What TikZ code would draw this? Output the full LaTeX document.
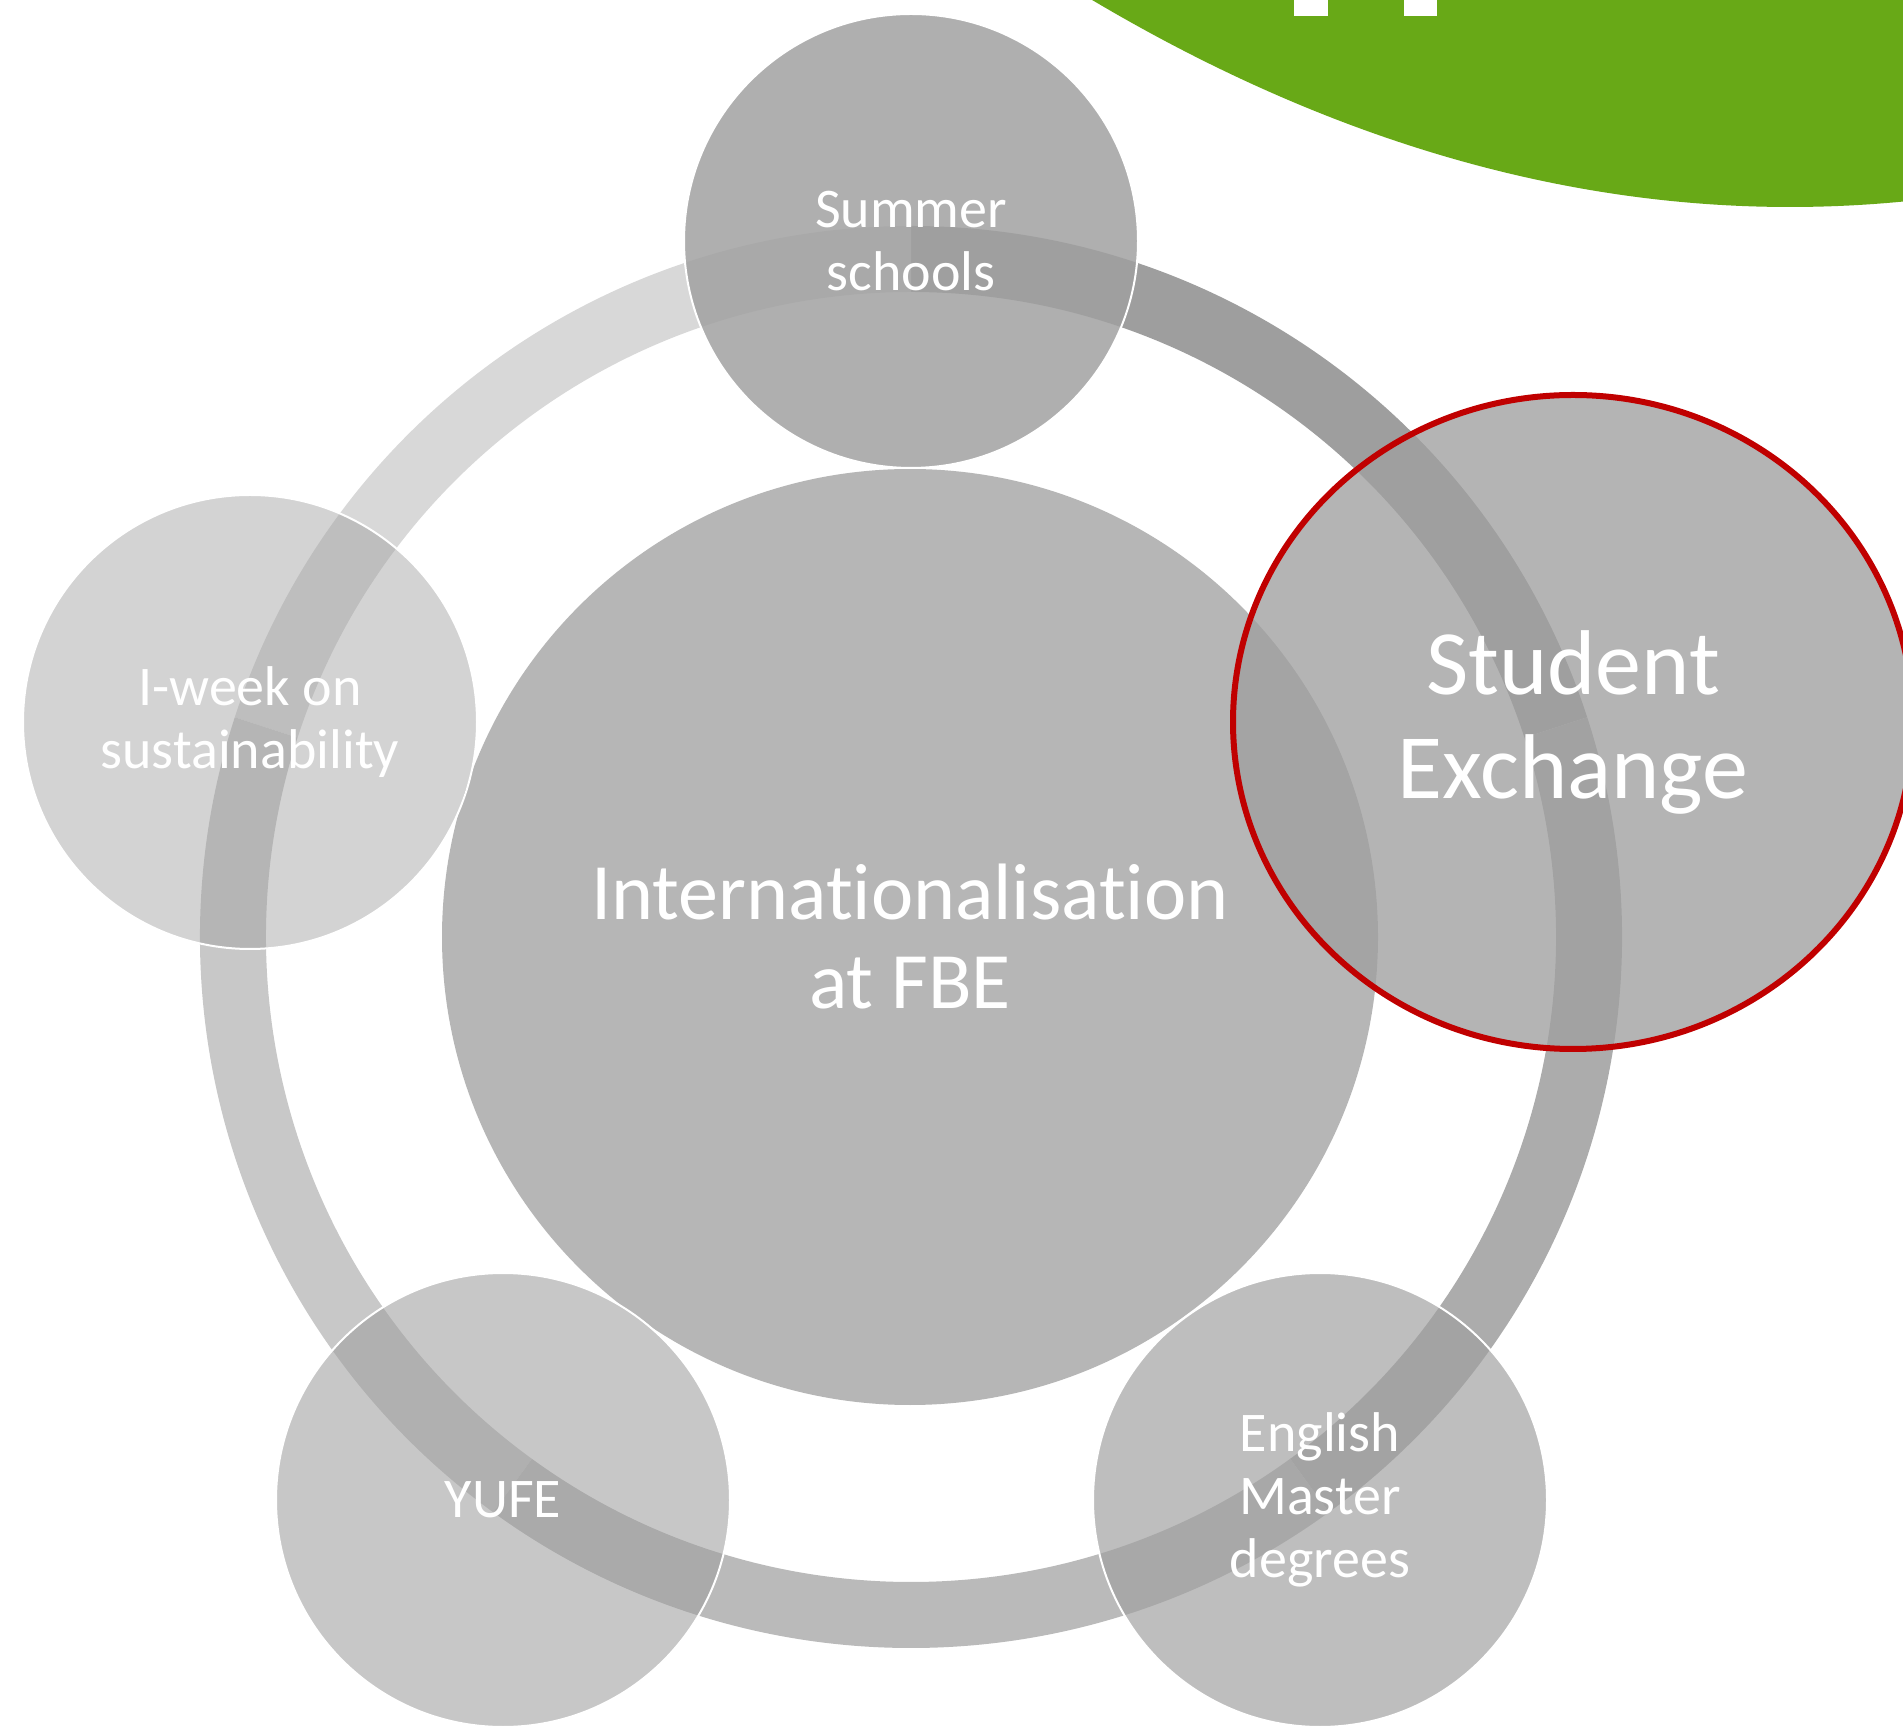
\documentclass[tikz,border=0pt]{standalone}
\usepackage{fontspec}
\setmainfont[Ligatures={NoCommon}]{Carlito}
\usetikzlibrary{shapes.geometric}
\definecolor{fbegreen}{RGB}{104,169,23}
\definecolor{satgray}{RGB}{160,160,160}
\definecolor{ctrgray}{RGB}{182,182,182}
\definecolor{exred}{RGB}{192,0,0}
\definecolor{ringA}{RGB}{158,158,158}
\definecolor{ringB}{RGB}{216,216,216}
\definecolor{ringC}{RGB}{200,200,200}
\definecolor{ringD}{RGB}{186,186,186}
\definecolor{ringE}{RGB}{172,172,172}
\tikzset{
  sat/.style={circle, minimum size=454pt, inner sep=0pt, fill=satgray,
    draw=white, draw opacity=1, line width=2pt, text=white, text opacity=1,
    align=center, font=\fontsize{56}{63}\selectfont},
  hub/.style={circle, minimum size=936pt, inner sep=0pt, fill=ctrgray,
    text=white, align=center, font=\fontsize{80}{89}\selectfont},
  focus/.style={ellipse, minimum width=680pt, minimum height=654pt, inner sep=0pt,
    fill=satgray, draw=exred, draw opacity=1, line width=6pt, text=white,
    text opacity=1, align=center, font=\fontsize{92}{104}\selectfont}
}
\begin{document}
\begin{tikzpicture}[x=1pt,y=1pt]
\useasboundingbox (0,0) rectangle (1903,1725);
\clip (0,0) rectangle (1903,1725);
\fill[white] (0,0) rectangle (1903,1725);
% green corner shape
\fill[fbegreen] (1080,1725) -- plot[domain=1085:1903,samples=90] (\x,{1518+4.25*((\x-1790)/100)^2}) -- (1903,1725) -- cycle;
\fill[white] (1294,1709) rectangle (1328,1725);
\fill[white] (1404,1709) rectangle (1437,1725);
% ring
\coordinate (rc) at (911,788);
\begin{scope}[shift={(rc)}]
\foreach \a/\b/\c in {18/90/ringA, 90/162/ringB, 162/234/ringC, 234/306/ringD, 306/378/ringE}
  \fill[\c] (\a:711pt) arc[start angle=\a, end angle=\b, radius=711pt] -- (\b:645pt) arc[start angle=\b, end angle=\a, radius=645pt] -- cycle;
\end{scope}
% hub
\node[hub] (ctr) at (910,788) {Internationalisation\\at FBE};
% satellites
\node[sat, fill opacity=0.84] (summer) at (911,1484) {Summer\\schools};
\node[sat, fill opacity=0.46] (iweek) at (250,1003) {I-week on\\sustainability};
\node[sat, fill opacity=0.58] (yufe) at (503,225) {YUFE};
\node[sat, fill opacity=0.68] (english) at (1320,225) {English\\Master\\degrees};
\node[focus, fill opacity=0.78] (student) at (1573,1003) {Student\\Exchange};
\end{tikzpicture}
\end{document}
